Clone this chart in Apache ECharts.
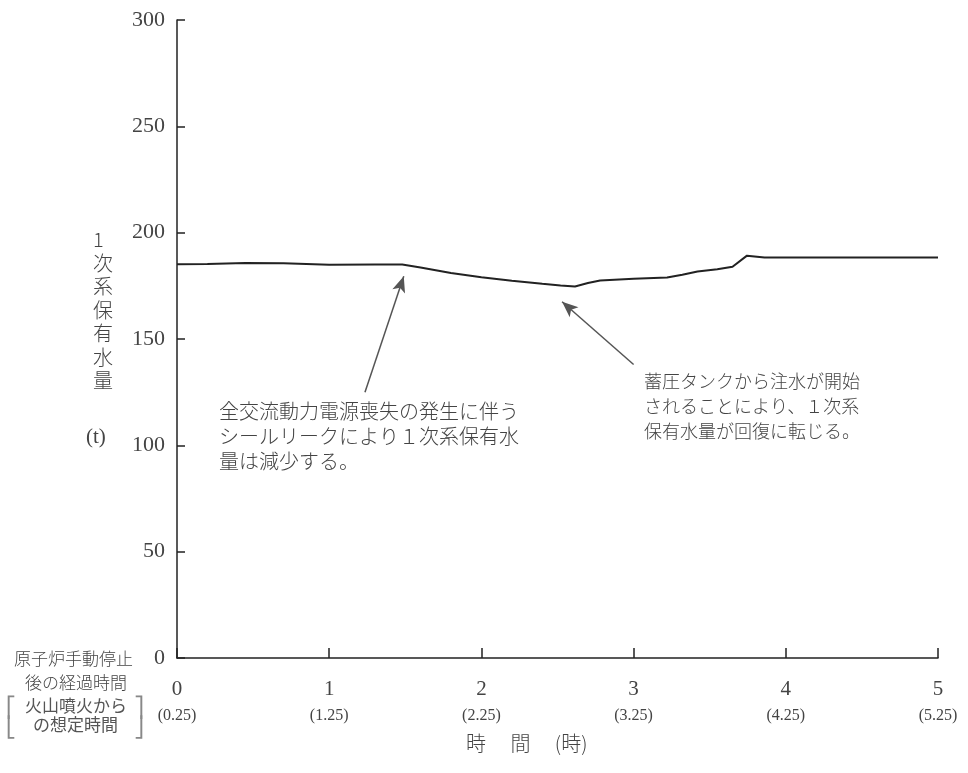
<!DOCTYPE html>
<html>
<head>
<meta charset="utf-8">
<script src="https://cdn.jsdelivr.net/npm/echarts@6/dist/echarts.min.js"></script>
<style>
  html, body { margin: 0; padding: 0; background: #fff; }
  #chart { width: 968px; height: 773px; }
</style>
</head>
<body>
<div id="chart"></div>
<script>
// 経過時間 (時) と 1次系保有水量 (t)
const hours = [0, 0.2, 0.45, 0.7, 1.0, 1.3, 1.48, 1.6, 1.8, 2.0, 2.2, 2.4, 2.52, 2.615, 2.7, 2.78, 3.0, 3.22, 3.32, 3.42, 3.55, 3.65, 3.745, 3.86, 4.5, 5.0]
const inventory = [185.2, 185.3, 185.7, 185.6, 184.9, 185.0, 185.0, 183.6, 181.0, 179.0, 177.4, 176.0, 175.2, 174.7, 176.3, 177.5, 178.3, 178.9, 180.2, 181.7, 182.8, 184.0, 189.2, 188.3, 188.3, 188.3]
const xTickLabels = ['0', '1', '2', '3', '4', '5']
const xSubLabels = ['(0.25)', '(1.25)', '(2.25)', '(3.25)', '(4.25)', '(5.25)']
const yTicks = [0, 50, 100, 150, 200, 250, 300]
const note1 = ['全交流動力電源喪失の発生に伴う', 'シールリークにより１次系保有水', '量は減少する。']
const note2 = ['蓄圧タンクから注水が開始', 'されることにより、１次系', '保有水量が回復に転じる。']
const arrow1 = [[1.235, 125], [1.49, 179.5]]
const arrow2 = [[3.0, 138], [2.53, 167.5]]

const chart = echarts.init(document.getElementById('chart'))
const serif = '"Liberation Serif", "DejaVu Serif", serif'
const jp = '"Noto Sans CJK JP", sans-serif'
const textColor = '#444'

const graphics = []
note1.forEach((t, i) => {
  graphics.push({ type: 'text', left: 219, top: 401 + i * 25,
    style: { text: t, font: '300 20px ' + jp, fill: textColor } })
})
note2.forEach((t, i) => {
  graphics.push({ type: 'text', left: 644, top: 372 + i * 25,
    style: { text: t, font: '300 18px ' + jp, fill: textColor } })
})
graphics.push(
  { type: 'text', left: 93, top: 228,
    style: { text: '1\n次\n系\n保\n有\n水\n量', font: '300 20px ' + jp, lineHeight: 23.5, fill: textColor, align: 'center' } },
  { type: 'text', left: 86, top: 427,
    style: { text: '(t)', font: '21px ' + serif, fill: textColor } },
  { type: 'text', left: 14, top: 650,
    style: { text: '原子炉手動停止', font: '300 17px ' + jp, fill: textColor } },
  { type: 'text', left: 25, top: 674,
    style: { text: '後の経過時間', font: '300 17px ' + jp, fill: textColor } },
  { type: 'text', left: 25, top: 697,
    style: { text: '火山噴火から', font: '17px ' + jp, fill: '#555' } },
  { type: 'text', left: 33, top: 716,
    style: { text: 'の想定時間', font: '17px ' + jp, fill: '#555' } },
  { type: 'text', left: 6, top: 696,
    style: { text: '⎡\n⎣', font: '300 20px ' + jp, lineHeight: 20, fill: '#888' } },
  { type: 'text', left: 134, top: 696,
    style: { text: '⎤\n⎦', font: '300 20px ' + jp, lineHeight: 20, fill: '#888' } },
  { type: 'text', left: 466, top: 733,
    style: { text: '時　 間　 (時)', font: '300 20px ' + jp, fill: textColor } }
)

chart.setOption({
  backgroundColor: '#fff',
  animation: false,
  grid: { left: 177, right: 30, top: 20, bottom: 115 },
  xAxis: {
    type: 'value',
    min: 0,
    max: 5,
    interval: 1,
    axisLine: { lineStyle: { color: '#222', width: 1.5 } },
    axisTick: { inside: true, length: 10, lineStyle: { color: '#222', width: 1.5 } },
    splitLine: { show: false },
    axisLabel: {
      margin: 17,
      formatter: (v) => {
        const i = Math.round(v)
        return '{a|' + xTickLabels[i] + '}\n{b|' + xSubLabels[i] + '}'
      },
      rich: {
        a: { fontFamily: serif, fontSize: 21, color: textColor, lineHeight: 28 },
        b: { fontFamily: serif, fontSize: 16, color: textColor, lineHeight: 26 }
      }
    }
  },
  yAxis: {
    type: 'value',
    min: yTicks[0],
    max: yTicks[yTicks.length - 1],
    interval: 50,
    axisLine: { show: true, lineStyle: { color: '#222', width: 1.5 } },
    axisTick: { show: true, inside: true, length: 8, lineStyle: { color: '#222', width: 1.5 } },
    splitLine: { show: false },
    axisLabel: { margin: 12, fontFamily: serif, fontSize: 22, color: textColor }
  },
  series: [{
    type: 'line',
    data: hours.map((h, i) => [h, inventory[i]]),
    showSymbol: false,
    lineStyle: { color: '#222', width: 2 },
    markLine: {
      silent: true,
      symbol: ['none', 'arrow'],
      symbolSize: [10, 16],
      label: { show: false },
      lineStyle: { color: '#555', width: 1.5, type: 'solid' },
      data: [
        [{ coord: arrow1[0] }, { coord: arrow1[1] }],
        [{ coord: arrow2[0] }, { coord: arrow2[1] }]
      ]
    }
  }],
  graphic: graphics
})
</script>
</body>
</html>
